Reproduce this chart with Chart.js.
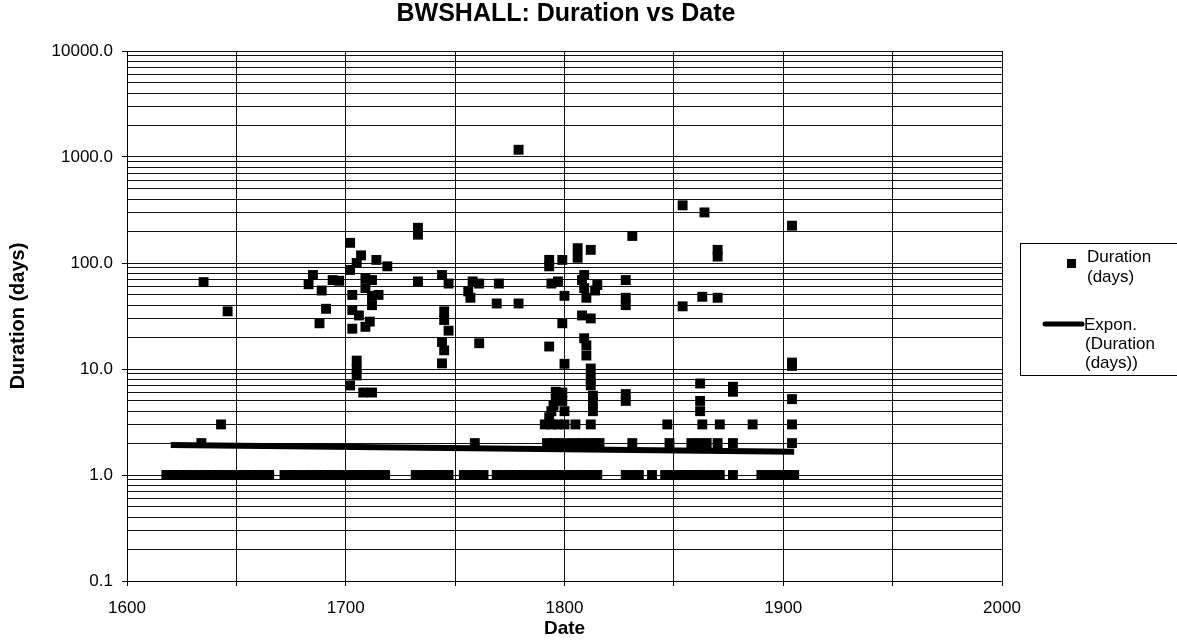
<!DOCTYPE html>
<html>
<head>
<meta charset="utf-8">
<script src="https://cdn.jsdelivr.net/npm/chart.js@4"></script>
<style>
  html, body { margin: 0; padding: 0; background: #fff; }
  #wrap { width: 1177px; height: 640px; position: relative; }
</style>
</head>
<body>
<div id="wrap"><canvas id="durationChart"></canvas></div>
<script>
/* ---------- data ---------- */

// points sitting on the 1-day row
const oneDayYears = [
  1618, 1621, 1624, 1627, 1630, 1633, 1636, 1639, 1642, 1645, 1648, 1651, 1654, 1657, 1660, 1663, 1665,
  1672, 1675, 1678, 1681, 1684, 1687, 1690, 1693, 1696, 1699, 1702, 1705, 1708, 1711, 1714, 1717, 1718,
  1732, 1735, 1738, 1741, 1744, 1747,
  1754, 1757, 1760, 1763,
  1769, 1772, 1775, 1778, 1781, 1784, 1787, 1790, 1793, 1796, 1799, 1802, 1805, 1808, 1811, 1814, 1815,
  1828, 1831, 1834, 1840,
  1846, 1849, 1852, 1855, 1858, 1861, 1864, 1867, 1870, 1871, 1877,
  1890, 1893, 1896, 1899, 1902, 1905
];

// points on the 2-day row
const twoDayYears = [1634, 1759, 1792, 1795, 1798, 1801, 1805, 1808, 1811, 1814, 1816,
  1831, 1848, 1858, 1862, 1865, 1870, 1877, 1904];

// points on the 3-day row
const threeDayYears = [1643, 1791, 1794, 1797, 1800, 1805, 1812, 1847, 1863, 1871, 1886, 1904];

// everything else
const otherYears = [
  1635, 1646, 1683, 1685, 1688, 1689, 1691, 1694, 1697, 1702, 1702, 1703, 1703, 1703, 1705, 1705, 1705, 1705,
  1702, 1706, 1707, 1709, 1709, 1709, 1711, 1712, 1712, 1712, 1708, 1712, 1714, 1715, 1719,
  1733, 1733, 1733, 1744, 1747, 1745, 1745, 1747, 1744, 1745, 1744,
  1756, 1757, 1758, 1761, 1761, 1769, 1770, 1779, 1779,
  1793, 1793, 1799, 1806, 1812, 1806, 1809, 1808, 1794, 1797, 1809, 1810, 1800, 1808, 1812, 1799,
  1809, 1810, 1793, 1810, 1800, 1812, 1812, 1812, 1813, 1813, 1813, 1796, 1796, 1795, 1794, 1793,
  1799, 1799, 1800, 1814, 1815,
  1828, 1828, 1828, 1831, 1828, 1828,
  1854, 1864, 1904, 1870, 1870, 1854, 1863, 1870,
  1862, 1862, 1862, 1877, 1877, 1904, 1904, 1904
];
const otherDays = [
  66, 35, 63, 77, 27, 55, 37, 69, 68, 155, 86, 50, 36, 24, 100, 12, 10, 8.7,
  7, 32, 118, 72, 58, 25, 28, 69, 49, 40, 6, 6, 107, 50, 93,
  215, 185, 67, 77, 64, 35, 29, 23, 18, 15, 11.3,
  54, 47, 67, 64, 17.5, 41.5, 64, 1170, 41.5,
  107, 93, 107, 138, 133, 112, 77, 69, 64, 67, 58, 47, 49, 32, 30, 27,
  19.5, 16.7, 16.3, 13.4, 11.2, 10.1, 8.1, 7, 5.6, 4.9, 4.0, 6.1, 5.2, 4.5, 4.0, 3.5,
  6, 5, 4, 55, 62,
  69, 47, 40, 180, 5.8, 5.0,
  350, 300, 225, 133, 115, 39, 48, 47,
  7.3, 5, 4, 6.8, 6.1, 5.2, 10.7, 11.5
];

// exponential trendline end points
const trendYears = [1620, 1905];
const trendDays = [1.92, 1.66];

// axes
const yDecades = [0.1, 1, 10, 100, 1000, 10000];
const yMinorSteps = [1, 2, 3, 4, 5, 6, 7, 8, 9];
const xMin = 1600, xMax = 2000, xStep = 50;

/* ---------- build datasets ---------- */

const scatterPoints = [];
oneDayYears.forEach(x => scatterPoints.push({ x, y: 1 }));
twoDayYears.forEach(x => scatterPoints.push({ x, y: 2 }));
threeDayYears.forEach(x => scatterPoints.push({ x, y: 3 }));
otherYears.forEach((x, i) => scatterPoints.push({ x, y: otherDays[i] }));

const trendPoints = trendYears.map((x, i) => ({ x, y: trendDays[i] }));

const yTickValues = [];
yDecades.forEach((d, i) => {
  if (i === yDecades.length - 1) { yTickValues.push(d); return; }
  yMinorSteps.forEach(s => yTickValues.push(+(d * s).toPrecision(3)));
});

const isDecade = v => yDecades.includes(v);

/* ---------- title + legend drawn by hand ---------- */

const FONT = '"Liberation Sans", Arial, sans-serif';

const decorPlugin = {
  id: 'decor',
  afterDraw(chart) {
    const ctx = chart.ctx;
    ctx.save();

    // title
    ctx.fillStyle = '#000';
    ctx.font = 'bold 25px ' + FONT;
    ctx.textAlign = 'center';
    ctx.textBaseline = 'middle';
    ctx.fillText('BWSHALL: Duration vs Date', 566, 14);

    // legend box
    ctx.strokeStyle = '#000';
    ctx.lineWidth = 1;
    ctx.strokeRect(1020.5, 243.5, 160, 132);

    ctx.font = '17px ' + FONT;
    ctx.textAlign = 'left';
    ctx.fillRect(1067, 259, 9, 9);
    ctx.fillText('Duration', 1087, 257);
    ctx.fillText('(days)', 1087, 277);

    ctx.lineWidth = 5;
    ctx.lineCap = 'round';
    ctx.beginPath();
    ctx.moveTo(1045, 324);
    ctx.lineTo(1082, 324);
    ctx.stroke();
    ctx.fillText('Expon.', 1084, 325);
    ctx.fillText('(Duration', 1085, 344);
    ctx.fillText('(days))', 1085, 363);

    ctx.restore();
  }
};

/* ---------- chart ---------- */

new Chart(document.getElementById('durationChart'), {
  type: 'scatter',
  data: {
    datasets: [
      {
        label: 'Duration (days)',
        data: scatterPoints,
        pointStyle: 'rect',
        pointRadius: 7,
        pointHoverRadius: 7,
        backgroundColor: '#000',
        borderColor: '#000',
        borderWidth: 0
      },
      {
        type: 'line',
        label: 'Expon. (Duration (days))',
        data: trendPoints,
        borderColor: '#000',
        borderWidth: 6,
        pointRadius: 0,
        fill: false
      }
    ]
  },
  options: {
    responsive: true,
    maintainAspectRatio: false,
    animation: false,
    layout: { padding: { left: 0, top: 51, right: 175, bottom: 0 } },
    plugins: {
      legend: { display: false },
      tooltip: { enabled: false },
      title: { display: false }
    },
    scales: {
      x: {
        type: 'linear',
        min: xMin,
        max: xMax,
        afterFit(scale) { scale.height = 59; },
        ticks: {
          stepSize: xStep,
          autoSkip: false,
          maxRotation: 0,
          padding: 12,
          color: '#000',
          font: { family: FONT, size: 17 },
          callback: v => (v % 100 === 0 ? String(v) : '')
        },
        grid: { color: '#111', lineWidth: 1, tickLength: 5, tickColor: '#000' },
        border: { color: '#000', width: 1 },
        title: {
          display: true,
          text: 'Date',
          color: '#000',
          font: { family: FONT, size: 19, weight: 'bold' },
          padding: { top: 0, bottom: 0 }
        }
      },
      y: {
        type: 'logarithmic',
        min: 0.1,
        max: 10000,
        afterFit(scale) { scale.width = 127; },
        afterBuildTicks(scale) {
          scale.ticks = yTickValues.map(v => ({ value: v, major: isDecade(v) }));
        },
        ticks: {
          autoSkip: false,
          padding: 9,
          color: '#000',
          font: { family: FONT, size: 17 },
          callback: v => (isDecade(v) ? v.toFixed(1) : '')
        },
        grid: {
          color: '#111',
          lineWidth: 1,
          tickLength: 5,
          tickColor: ctx => (ctx.tick && isDecade(ctx.tick.value) ? '#000' : 'rgba(0,0,0,0)')
        },
        border: { color: '#000', width: 1 },
        title: {
          display: true,
          text: 'Duration (days)',
          color: '#000',
          font: { family: FONT, size: 20, weight: 'bold' },
          padding: { top: 6, bottom: 0 }
        }
      }
    }
  },
  plugins: [decorPlugin]
});
</script>
</body>
</html>
